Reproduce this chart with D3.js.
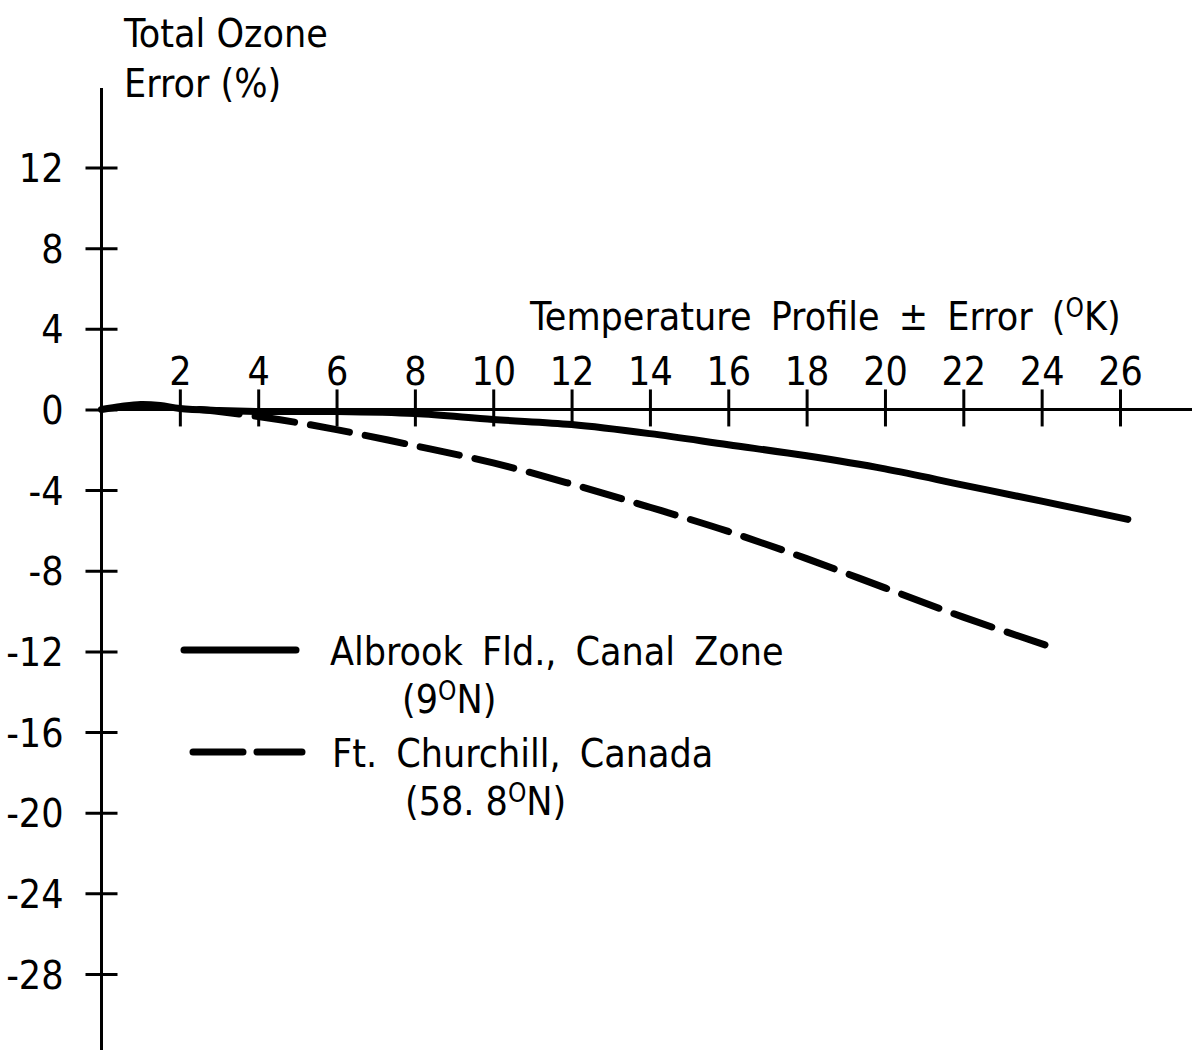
<!DOCTYPE html>
<html>
<head>
<meta charset="utf-8">
<script src="https://cdn.jsdelivr.net/npm/d3@7"></script>
<style>
  html, body { margin: 0; padding: 0; background: #fff; }
  svg { display: block; }
  text { font-family: "Liberation Sans Narrow", "DejaVu Sans Condensed", "Arial Narrow", sans-serif; fill: #000; }
</style>
</head>
<body>
<svg id="chart" width="1192" height="1050"></svg>
<script>
// Temperature profile error (K) vs. total ozone error (%)
const xTicks = [2, 4, 6, 8, 10, 12, 14, 16, 18, 20, 22, 24, 26];
const yTicks = [12, 8, 4, 0, -4, -8, -12, -16, -20, -24, -28];

// Albrook Fld., Canal Zone (9°N)
const albrookX = [0, 0.5, 1, 1.5, 2, 3, 4, 6, 8, 10, 12, 14, 16, 18, 20, 22, 24, 26.2];
const albrookY = [0, 0.15, 0.25, 0.2, 0.05, -0.05, -0.1, -0.1, -0.2, -0.5, -0.75, -1.2, -1.75, -2.3, -2.95, -3.75, -4.55, -5.45];

// Ft. Churchill, Canada (58.8°N)
const churchillX = [2.5, 3, 4, 5, 6, 8, 10, 12, 14, 16, 18, 20, 22, 24.2];
const churchillY = [0, -0.1, -0.35, -0.65, -1.0, -1.8, -2.65, -3.7, -4.85, -6.05, -7.4, -8.85, -10.3, -11.75];

const seriesNames = ["Albrook Fld., Canal Zone", "Ft. Churchill, Canada"];
const seriesLats = ["9", "58. 8"];

const svg = d3.select("#chart");
const x = d3.scaleLinear().domain([0, 26]).range([101.5, 1120]);
const y = d3.scaleLinear().domain([12, -28]).range([167.5, 974]);

const FS = 39;

// Vertical axis (plain hyphen for negative labels)
const yAxisG = svg.append("g").attr("transform", `translate(${x(0)},0)`);
yAxisG.call(d3.axisLeft(y).tickValues(yTicks).tickFormat(d => String(d))
  .tickSizeInner(16).tickSizeOuter(0).tickPadding(22));
yAxisG.select(".domain").remove();
yAxisG.selectAll(".tick line").attr("x1", 16).attr("x2", -16).attr("stroke", "#000").attr("stroke-width", 3);
yAxisG.selectAll(".tick text").attr("font-size", FS).attr("font-family", null).attr("dy", "0.36em");
yAxisG.append("line").attr("x1", 0).attr("x2", 0).attr("y1", 88).attr("y2", 1050)
  .attr("stroke", "#000").attr("stroke-width", 3);

// Horizontal axis through zero
const xAxisG = svg.append("g").attr("transform", `translate(0,${y(0)})`);
xAxisG.call(d3.axisTop(x).tickValues(xTicks).tickFormat(d => String(d))
  .tickSizeInner(20).tickSizeOuter(0).tickPadding(4));
xAxisG.select(".domain").remove();
xAxisG.selectAll(".tick line").attr("y1", 17).attr("y2", -20).attr("stroke", "#000").attr("stroke-width", 3);
xAxisG.selectAll(".tick text").attr("font-size", FS).attr("font-family", null);
xAxisG.append("line").attr("x1", x(0)).attr("x2", 1192).attr("y1", 0).attr("y2", 0)
  .attr("stroke", "#000").attr("stroke-width", 3);

// Axis titles
const yTitle = svg.append("text").attr("font-size", FS);
yTitle.append("tspan").attr("x", 124).attr("y", 47).text("Total Ozone");
yTitle.append("tspan").attr("x", 124).attr("y", 97).text("Error (%)");

const xTitle = svg.append("text").attr("x", 530).attr("y", 330).attr("font-size", FS)
  .attr("word-spacing", 8);
xTitle.append("tspan").text("Temperature Profile \u00B1 Error (");
xTitle.append("tspan").attr("font-size", 26).attr("dy", -13).text("O");
xTitle.append("tspan").attr("dy", 13).text("K)");

// Curves
const line = d3.line().x(d => x(d[0])).y(d => y(d[1])).curve(d3.curveCatmullRom.alpha(0.5));
const albrook = albrookX.map((v, i) => [v, albrookY[i]]);
const churchill = churchillX.map((v, i) => [v, churchillY[i]]);

svg.append("path").datum(albrook).attr("d", line)
  .attr("fill", "none").attr("stroke", "#000").attr("stroke-width", 7).attr("stroke-linecap", "round");
svg.append("path").datum(churchill).attr("d", line)
  .attr("fill", "none").attr("stroke", "#000").attr("stroke-width", 7)
  .attr("stroke-linecap", "round").attr("stroke-dasharray", "40,16");

// Legend
const legend = svg.append("g");
const legendRows = [
  { y: 650, x1: 184, x2: 296, dash: null, labelX: 330, subX: 402 },
  { y: 752, x1: 193, x2: 302, dash: "50,14", labelX: 332, subX: 405 }
];
legendRows.forEach((r, i) => {
  legend.append("line").attr("x1", r.x1).attr("x2", r.x2).attr("y1", r.y).attr("y2", r.y)
    .attr("stroke", "#000").attr("stroke-width", 7).attr("stroke-linecap", "round")
    .attr("stroke-dasharray", r.dash);
  legend.append("text").attr("x", r.labelX).attr("y", r.y + 15).attr("font-size", FS)
    .attr("word-spacing", 8).text(seriesNames[i]);
  const sub = legend.append("text").attr("x", r.subX).attr("y", r.y + 63).attr("font-size", FS);
  sub.append("tspan").text("(" + seriesLats[i]);
  sub.append("tspan").attr("font-size", 26).attr("dy", -13).text("O");
  sub.append("tspan").attr("dy", 13).text("N)");
});
</script>
</body>
</html>
